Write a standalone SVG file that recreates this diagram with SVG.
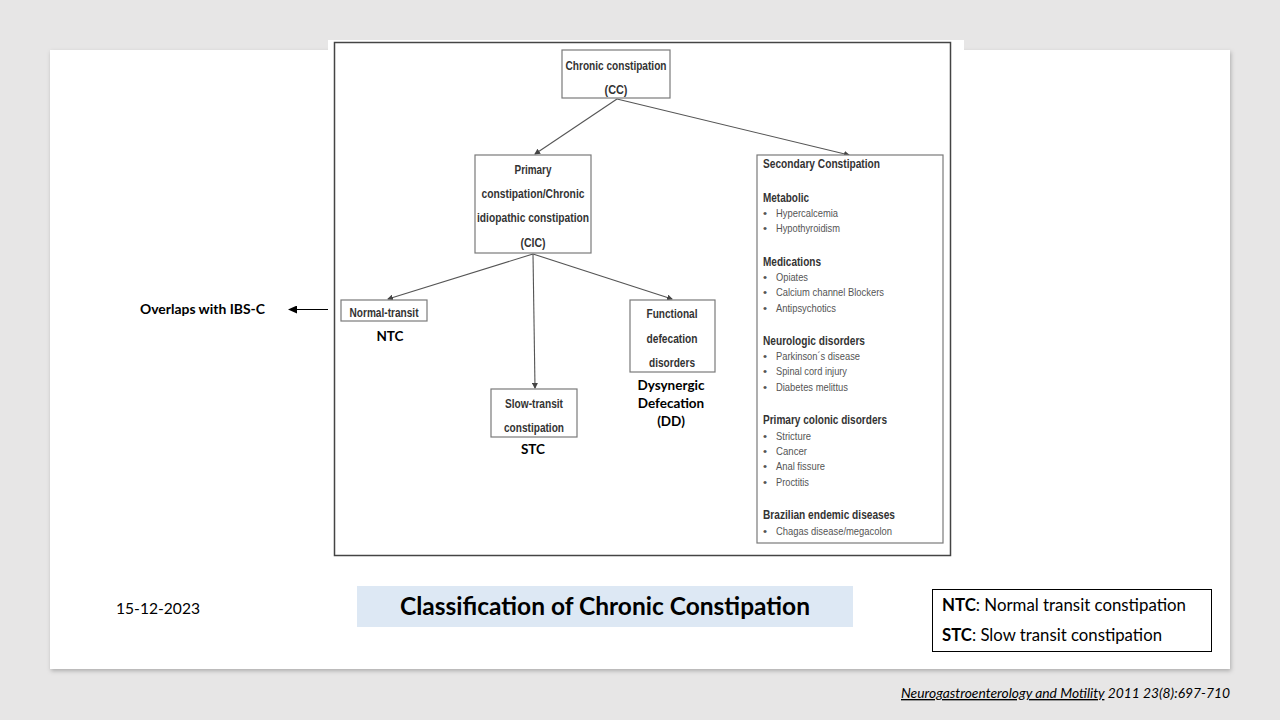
<svg xmlns="http://www.w3.org/2000/svg" width="1280" height="720" viewBox="0 0 1280 720">
<defs>
<marker id="ah" markerWidth="6" markerHeight="6" refX="5" refY="3" orient="auto" markerUnits="userSpaceOnUse">
<path d="M0,0 L6,3 L0,6 z" fill="#444"/>
</marker>
<marker id="ah2" markerWidth="9" markerHeight="8" refX="8" refY="4" orient="auto" markerUnits="userSpaceOnUse">
<path d="M0,0 L9,4 L0,8 z" fill="#000"/>
</marker>
<filter id="sh" x="-5%" y="-5%" width="110%" height="110%">
<feDropShadow dx="1" dy="2" stdDeviation="2" flood-color="#000" flood-opacity="0.25"/>
</filter>
<style>
.nb{fill:#fff;stroke:#7a7a7a;stroke-width:1.2}
.nt{font-family:"Liberation Sans",Arial,sans-serif;font-weight:bold;font-size:13px;fill:#333;text-anchor:middle}
.hd{font-family:"Liberation Sans",Arial,sans-serif;font-weight:bold;font-size:13px;fill:#333}
.it{font-family:"Liberation Sans",Arial,sans-serif;font-size:11.5px;fill:#555}
.lb{font-family:"Lato","Open Sans",sans-serif;font-weight:bold;font-size:13.5px;fill:#000;text-anchor:middle}
.cn{stroke:#555;stroke-width:1.1;fill:none;marker-end:url(#ah)}
.cal{font-family:"Lato","Open Sans",sans-serif;fill:#000}
</style>
</defs>
<rect width="1280" height="720" fill="#e7e6e6"/>
<rect x="50" y="50" width="1180" height="619" fill="#fff" filter="url(#sh)"/>
<rect x="328" y="40" width="636" height="520" fill="#fff"/>
<rect x="334.5" y="42.5" width="616" height="513" fill="none" stroke="#444" stroke-width="1.5"/>

<g id="connectors">
<line class="cn" x1="617" y1="99" x2="535" y2="154"/>
<line class="cn" x1="617" y1="99" x2="849" y2="155"/>
<line class="cn" x1="533" y1="254" x2="388" y2="299"/>
<line class="cn" x1="533" y1="254" x2="535" y2="388"/>
<line class="cn" x1="533" y1="254" x2="672" y2="299"/>
<line x1="328" y1="309.5" x2="289" y2="309.5" stroke="#000" stroke-width="1.2" marker-end="url(#ah2)"/>
</g>

<g id="cc">
<rect class="nb" x="562" y="50" width="108" height="48"/>
<text class="nt" x="616" y="70" textLength="101" lengthAdjust="spacingAndGlyphs">Chronic constipation</text>
<text class="nt" x="616" y="94" textLength="23" lengthAdjust="spacingAndGlyphs">(CC)</text>
</g>

<g id="primary">
<rect class="nb" x="475" y="155" width="116" height="98"/>
<text class="nt" x="533" y="174" textLength="37" lengthAdjust="spacingAndGlyphs">Primary</text>
<text class="nt" x="533" y="198" textLength="103" lengthAdjust="spacingAndGlyphs">constipation/Chronic</text>
<text class="nt" x="533" y="222" textLength="112" lengthAdjust="spacingAndGlyphs">idiopathic constipation</text>
<text class="nt" x="533" y="247" textLength="25" lengthAdjust="spacingAndGlyphs">(CIC)</text>
</g>

<g id="normal">
<rect class="nb" x="341" y="300" width="86" height="21"/>
<text class="nt" x="384" y="317" textLength="69" lengthAdjust="spacingAndGlyphs">Normal-transit</text>
<text class="lb" x="390" y="341">NTC</text>
</g>

<g id="slow">
<rect class="nb" x="491" y="389" width="86" height="48"/>
<text class="nt" x="534" y="408" textLength="58" lengthAdjust="spacingAndGlyphs">Slow-transit</text>
<text class="nt" x="534" y="432" textLength="60" lengthAdjust="spacingAndGlyphs">constipation</text>
<text class="lb" x="533" y="454">STC</text>
</g>

<g id="functional">
<rect class="nb" x="630" y="300" width="85" height="72"/>
<text class="nt" x="672" y="318" textLength="51" lengthAdjust="spacingAndGlyphs">Functional</text>
<text class="nt" x="672" y="343" textLength="51" lengthAdjust="spacingAndGlyphs">defecation</text>
<text class="nt" x="672" y="367" textLength="46" lengthAdjust="spacingAndGlyphs">disorders</text>
<text class="lb" x="671" y="390">Dysynergic</text>
<text class="lb" x="671" y="408">Defecation</text>
<text class="lb" x="671" y="426">(DD)</text>
</g>

<g id="secondary">
<rect class="nb" x="757" y="155" width="186" height="388"/>
<text class="hd" x="763" y="168" textLength="117" lengthAdjust="spacingAndGlyphs">Secondary Constipation</text>
<text class="hd" x="763" y="202" textLength="46" lengthAdjust="spacingAndGlyphs">Metabolic</text>
<text class="it" x="763" y="217">•</text><text class="it" x="776" y="217" textLength="62" lengthAdjust="spacingAndGlyphs">Hypercalcemia</text>
<text class="it" x="763" y="232">•</text><text class="it" x="776" y="232" textLength="64" lengthAdjust="spacingAndGlyphs">Hypothyroidism</text>
<text class="hd" x="763" y="266" textLength="58" lengthAdjust="spacingAndGlyphs">Medications</text>
<text class="it" x="763" y="281">•</text><text class="it" x="776" y="281" textLength="32" lengthAdjust="spacingAndGlyphs">Opiates</text>
<text class="it" x="763" y="296">•</text><text class="it" x="776" y="296" textLength="108" lengthAdjust="spacingAndGlyphs">Calcium channel Blockers</text>
<text class="it" x="763" y="312">•</text><text class="it" x="776" y="312" textLength="60" lengthAdjust="spacingAndGlyphs">Antipsychotics</text>
<text class="hd" x="763" y="345" textLength="102" lengthAdjust="spacingAndGlyphs">Neurologic disorders</text>
<text class="it" x="763" y="360">•</text><text class="it" x="776" y="360" textLength="84" lengthAdjust="spacingAndGlyphs">Parkinson´s disease</text>
<text class="it" x="763" y="375">•</text><text class="it" x="776" y="375" textLength="71" lengthAdjust="spacingAndGlyphs">Spinal cord injury</text>
<text class="it" x="763" y="391">•</text><text class="it" x="776" y="391" textLength="72" lengthAdjust="spacingAndGlyphs">Diabetes melittus</text>
<text class="hd" x="763" y="424" textLength="124" lengthAdjust="spacingAndGlyphs">Primary colonic disorders</text>
<text class="it" x="763" y="440">•</text><text class="it" x="776" y="440" textLength="35" lengthAdjust="spacingAndGlyphs">Stricture</text>
<text class="it" x="763" y="455">•</text><text class="it" x="776" y="455" textLength="31" lengthAdjust="spacingAndGlyphs">Cancer</text>
<text class="it" x="763" y="470">•</text><text class="it" x="776" y="470" textLength="49" lengthAdjust="spacingAndGlyphs">Anal fissure</text>
<text class="it" x="763" y="486">•</text><text class="it" x="776" y="486" textLength="33" lengthAdjust="spacingAndGlyphs">Proctitis</text>
<text class="hd" x="763" y="519" textLength="132" lengthAdjust="spacingAndGlyphs">Brazilian endemic diseases</text>
<text class="it" x="763" y="535">•</text><text class="it" x="776" y="535" textLength="116" lengthAdjust="spacingAndGlyphs">Chagas disease/megacolon</text>
</g>

<g id="overlaps">
<text class="cal" x="140" y="314" font-size="14" font-weight="bold" textLength="125" lengthAdjust="spacingAndGlyphs">Overlaps with IBS-C</text>
</g>

<g id="footer">
<text class="cal" x="116" y="614" font-size="16" textLength="84" lengthAdjust="spacingAndGlyphs">15-12-2023</text>
<rect x="357" y="586" width="496" height="41" fill="#dde8f4"/>
<text class="cal" x="400" y="615" font-size="24" font-weight="bold" textLength="410" lengthAdjust="spacingAndGlyphs">Classification of Chronic Constipation</text>
<rect x="932.5" y="589.5" width="279" height="62" fill="#fff" stroke="#000" stroke-width="1"/>
<text class="cal" x="942" y="611" font-size="16.5" textLength="244" lengthAdjust="spacingAndGlyphs"><tspan font-weight="bold">NTC</tspan>: Normal transit constipation</text>
<text class="cal" x="942" y="641" font-size="16.5" textLength="220" lengthAdjust="spacingAndGlyphs"><tspan font-weight="bold">STC</tspan>: Slow transit constipation</text>
<text class="cal" x="901" y="698" font-size="13.5" font-style="italic" textLength="329" lengthAdjust="spacingAndGlyphs"><tspan text-decoration="underline">Neurogastroenterology and Motility</tspan> 2011 23(8):697-710</text>
</g>
</svg>
